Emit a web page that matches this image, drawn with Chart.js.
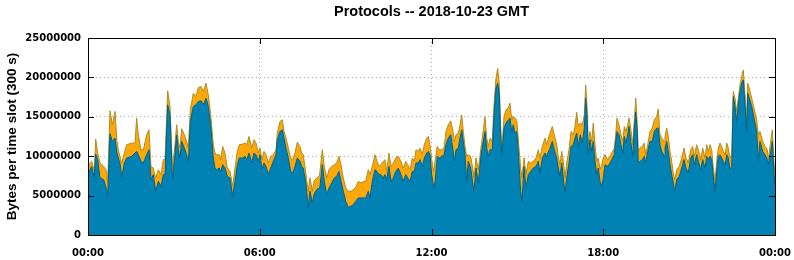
<!DOCTYPE html>
<html>
<head>
<meta charset="utf-8">
<script src="https://cdn.jsdelivr.net/npm/chart.js@4/dist/chart.umd.min.js"></script>
<style>
html,body{margin:0;padding:0;background:#fff;}
#wrap{width:794px;height:260px;position:relative;}
</style>
</head>
<body>
<div id="wrap"><canvas id="c" width="794" height="260"></canvas></div>
<script>
// Time of each reading, hours since 00:00 GMT
const slotHours = [
0.00,0.128,0.221,0.268,0.338,0.419,0.547,0.652,0.687,0.769,0.850,0.943,1.013,1.060,1.129,1.176,1.269,1.351,1.525,1.642,1.700,1.758,1.852,1.933,2.050,2.131,2.201,2.282,2.364,2.457,2.550,2.632,2.690,2.783,2.865,2.946,3.016,3.098,3.156,3.214,3.272,3.365,3.447,3.505,3.575,3.680,3.773,3.855,3.948,4.029,
4.122,4.203,4.287,4.377,4.437,4.496,4.587,4.636,4.706,4.786,4.866,4.961,5.055,5.135,5.216,5.286,5.404,5.485,5.544,5.624,5.719,5.799,5.869,5.949,6.009,6.079,6.148,6.218,6.299,6.383,6.473,6.568,6.613,6.707,6.788,6.847,6.917,6.998,7.081,7.151,7.232,7.312,7.406,7.465,7.521,7.616,7.696,7.755,7.836,7.895,7.989,8.080,
8.105,8.185,8.255,8.339,8.419,8.514,8.604,8.688,8.769,8.838,8.919,9.003,9.093,9.188,9.268,9.352,9.443,9.537,9.618,9.701,9.792,9.852,9.932,10.026,10.096,10.166,10.236,10.316,10.376,10.435,10.515,10.585,10.666,10.749,10.840,10.934,11.015,11.099,11.169,11.249,11.329,11.399,11.459,11.539,11.598,11.679,11.749,11.832,11.888,11.948,12.007,12.077,
12.126,12.203,12.273,12.356,12.437,12.507,12.587,12.671,12.741,12.797,12.856,12.937,12.996,13.055,13.111,13.170,13.229,13.286,13.369,13.439,13.485,13.555,13.635,13.719,13.789,13.869,13.928,13.984,14.044,14.124,14.183,14.253,14.313,14.369,14.418,14.463,14.533,14.603,14.683,14.742,14.802,14.858,14.917,14.976,15.022,15.067,15.116,15.162,15.232,15.301,15.382,15.466,15.557,15.651,15.731,15.790,15.871,15.965,16.024,16.115,
16.140,16.220,16.290,16.374,16.430,16.489,16.549,16.604,16.664,16.723,16.803,16.873,16.954,17.013,17.073,17.128,17.198,17.268,17.338,17.387,17.432,17.478,17.537,17.596,17.652,17.712,17.771,17.827,17.886,17.946,18.002,18.061,18.155,18.236,18.295,18.386,18.435,18.481,18.550,18.620,18.680,18.736,18.795,18.854,18.900,18.959,19.029,19.085,19.134,19.179,19.225,19.284,19.365,19.434,19.483,19.553,19.633,19.714,19.784,19.868,19.923,19.983,20.042,20.133,
20.157,20.216,20.272,20.332,20.391,20.447,20.496,20.566,20.657,20.741,20.821,20.891,20.971,21.055,21.125,21.181,21.265,21.321,21.404,21.474,21.555,21.614,21.670,21.729,21.789,21.845,21.904,21.963,22.019,22.079,22.138,22.194,22.264,22.313,22.369,22.428,22.488,22.543,22.603,22.662,22.718,22.777,22.837,22.893,22.952,23.011,23.046,23.102,23.186,23.266,23.361,23.416,23.476,23.570,23.651,23.731,23.766,23.850,23.906,23.965,24.0
];
// Lower (blue) protocol, millions of bytes per slot
const protoBlueM = [
7.66,8.71,7.24,10.27,9.56,7.24,7.03,5.76,4.79,12.85,11.88,12.30,10.40,9.77,8.92,7.24,9.14,9.77,9.98,10.40,10.61,10.19,9.35,9.14,10.19,10.82,7.03,7.66,5.55,6.81,6.18,7.66,7.66,16.52,15.25,7.24,9.35,12.72,10.82,9.77,11.88,11.03,10.19,9.14,14.41,16.31,16.52,16.94,17.03,16.52,
17.36,16.31,13.99,9.77,8.50,8.29,8.50,8.08,8.92,8.50,7.45,7.24,4.92,6.81,8.92,9.77,9.77,9.98,9.56,10.40,9.14,10.40,10.19,9.35,10.19,8.29,9.14,8.71,7.66,8.50,9.35,10.19,12.09,13.14,13.35,12.30,11.03,9.77,8.08,7.87,8.71,9.77,9.35,8.71,8.50,6.39,3.44,5.55,4.07,5.13,5.76,5.97,
6.18,8.92,6.81,5.13,5.97,6.60,7.24,7.45,8.08,6.81,5.55,4.28,3.52,3.65,3.86,4.28,4.70,4.70,4.70,4.70,5.55,4.70,6.81,8.29,8.08,7.66,7.66,7.24,7.66,7.03,8.71,6.81,7.24,8.08,8.50,7.66,6.81,7.66,7.24,6.81,8.08,8.08,9.14,9.14,9.56,8.71,9.77,10.40,10.61,10.19,7.66,5.97,
6.81,9.98,9.77,9.98,10.19,11.46,12.30,12.72,11.03,9.35,10.82,11.03,12.30,13.35,11.88,10.19,6.81,9.35,8.50,6.60,5.55,8.50,6.60,9.77,11.46,13.14,11.03,9.98,10.82,10.82,15.25,18.63,19.26,17.78,12.30,10.19,13.56,14.20,14.62,14.83,13.14,13.99,12.93,13.14,11.03,8.50,5.55,4.28,8.71,5.97,7.66,8.08,8.50,8.71,9.35,7.87,9.77,10.40,9.98,10.82,
11.03,11.88,10.82,9.77,8.50,7.45,9.14,7.24,5.34,7.24,9.14,11.24,11.46,12.30,12.93,11.24,12.72,11.67,13.56,17.36,15.25,10.19,12.09,10.61,11.88,9.35,7.66,8.50,6.81,6.18,7.24,8.92,8.71,9.14,9.56,10.19,11.88,13.14,12.72,11.46,10.40,12.51,11.67,12.72,13.78,11.88,9.98,13.56,15.59,13.56,9.14,9.35,9.56,9.98,9.14,10.61,11.88,11.88,13.14,13.56,13.56,11.46,10.61,9.98,
11.03,11.88,10.61,8.92,7.66,6.60,5.55,7.03,7.45,8.50,9.56,8.50,7.87,9.77,10.19,8.92,10.19,9.35,8.29,9.56,8.50,9.98,9.56,9.98,9.56,7.45,5.55,8.08,9.98,10.19,9.77,9.35,8.92,10.19,9.77,8.29,8.71,17.57,16.31,14.41,16.52,18.21,19.26,19.68,16.52,13.14,18.00,17.36,16.31,14.83,13.14,9.35,11.88,10.61,10.19,9.56,8.92,10.61,11.88,7.66,6.39
];
// Upper (orange) protocol, millions of bytes per slot
const protoOrangeM = [
1.05,0.64,0.84,1.90,0.84,1.90,1.68,2.32,1.81,2.91,2.11,3.38,1.48,1.05,0.85,1.90,1.26,1.69,1.69,1.27,4.22,2.53,1.47,1.68,2.53,2.53,1.68,0.84,1.69,1.48,1.48,1.90,1.90,1.77,1.06,1.47,1.26,1.27,1.06,1.26,1.60,1.69,1.69,1.89,1.48,1.69,1.05,1.77,1.81,1.69,
1.90,1.47,1.26,1.69,1.90,1.90,1.69,1.48,2.32,1.90,1.05,0.84,1.26,1.69,1.69,1.69,1.77,1.69,1.90,2.11,1.89,1.69,1.48,1.05,0.84,1.27,1.47,1.48,1.48,1.48,0.84,0.63,0.84,1.27,1.27,0.84,1.27,1.26,1.69,1.69,1.69,2.02,1.89,1.69,1.69,1.27,2.11,1.69,1.48,1.68,1.48,1.48,
1.90,1.90,1.90,2.11,2.32,2.11,1.68,1.69,1.90,2.11,1.69,1.69,2.03,1.90,1.90,1.77,2.11,1.90,2.11,2.11,2.74,2.96,1.90,1.90,1.27,1.05,1.26,2.11,1.90,1.05,1.69,1.90,1.90,1.69,1.48,1.69,1.69,1.69,1.68,1.48,1.69,1.27,1.68,1.47,1.47,1.48,1.69,1.90,1.90,1.27,1.90,2.11,
2.54,1.26,1.05,0.84,0.84,1.68,1.69,1.77,2.32,2.53,1.90,1.90,1.69,1.90,1.26,1.05,3.17,0.84,1.48,1.90,1.69,1.27,1.69,1.05,1.26,1.90,1.27,1.26,1.48,1.06,1.27,1.26,1.90,1.27,1.26,1.05,1.48,1.69,1.48,1.90,1.48,1.05,1.90,1.48,1.69,2.11,2.95,2.96,1.06,1.69,1.69,1.06,0.85,1.06,1.47,1.90,1.47,1.90,1.48,1.90,
1.90,1.90,1.90,1.69,1.48,1.47,1.47,2.11,1.90,1.90,1.68,1.90,1.26,1.48,2.64,2.54,1.48,2.32,1.69,1.69,1.27,1.27,1.05,1.27,2.32,2.11,1.69,1.27,1.48,2.74,2.53,1.27,0.85,0.84,0.84,0.84,0.84,1.69,1.27,1.26,1.48,1.27,1.47,1.27,1.05,1.68,1.48,1.06,1.77,1.27,1.47,1.68,1.68,1.69,1.05,0.85,1.26,1.68,1.48,1.48,2.45,1.26,1.69,1.90,
1.48,1.68,1.90,1.69,1.69,1.27,1.48,1.26,1.26,1.27,1.47,1.27,1.27,1.05,1.05,1.06,1.27,1.47,1.27,1.47,1.27,1.48,1.05,1.48,1.26,1.05,1.26,1.27,1.05,1.48,1.47,1.26,1.27,1.48,1.26,1.48,1.48,0.64,1.05,1.27,0.84,0.84,0.85,1.27,1.26,1.48,1.26,1.27,1.05,1.27,1.48,3.37,1.26,1.27,1.05,1.26,0.64,1.27,1.47,1.69,0.85
];
const xTickLabels = ["00:00","06:00","12:00","18:00","00:00"];
const yTickValues = [0,5000000,10000000,15000000,20000000,25000000];
const chartTitle = "Protocols -- 2018-10-23 GMT";
const yAxisTitle = "Bytes per time slot (300 s)";

const toPoints = arr => slotHours.map((h,i)=>({x:h, y:arr[i]*1e6}));

const frameTicks = {
  id:'frameTicks',
  afterDatasetsDraw(chart){
    const {ctx, chartArea:a, scales:{x,y}} = chart;
    ctx.save();
    ctx.setLineDash([]);
    ctx.strokeStyle='#000';
    ctx.lineWidth=1;
    const L=6;
    ctx.beginPath();
    yTickValues.forEach(v=>{
      const py=Math.round(y.getPixelForValue(v))+0.5;
      ctx.moveTo(a.left,py); ctx.lineTo(a.left+L,py);
      ctx.moveTo(a.right,py); ctx.lineTo(a.right-L,py);
    });
    [0,6,12,18,24].forEach(v=>{
      const px=Math.round(x.getPixelForValue(v))+0.5;
      ctx.moveTo(px,a.top); ctx.lineTo(px,a.top+L);
      ctx.moveTo(px,a.bottom); ctx.lineTo(px,a.bottom-L);
    });
    ctx.stroke();
    ctx.strokeRect(Math.round(a.left)+0.5, Math.round(a.top)+0.5, Math.round(a.right-a.left), Math.round(a.bottom-a.top));
    // chart title, centred over the plot area
    ctx.fillStyle='#000';
    ctx.font='bold 14.5px "Liberation Sans"';
    ctx.textAlign='center';
    ctx.textBaseline='middle';
    ctx.fillText(chartTitle, (a.left+a.right)/2, 12);
    ctx.restore();
  }
};

new Chart(document.getElementById('c'), {
  type:'line',
  data:{
    datasets:[
      {label:'Protocol 1', data:toPoints(protoBlueM), backgroundColor:'rgb(0,130,180)', borderColor:'rgb(0,95,130)', borderWidth:1, fill:'origin', pointRadius:0, tension:0},
      {label:'Protocol 2', data:toPoints(protoOrangeM), backgroundColor:'rgb(252,168,10)', borderColor:'rgb(175,140,30)', borderWidth:1, fill:'-1', pointRadius:0, tension:0}
    ]
  },
  options:{
    responsive:false,
    animation:false,
    layout:{padding:{left:0,right:19,top:38,bottom:0}},
    plugins:{
      legend:{display:false},
      tooltip:{enabled:false},
      title:{display:false}
    },
    scales:{
      x:{
        type:'linear', min:0, max:24,
        afterFit(s){ s.height = 25; s.paddingLeft = 0; s.paddingRight = 0; },
        afterBuildTicks(s){ s.ticks = [0,6,12,18,24].map(v=>({value:v})); },
        ticks:{ callback:(v)=>xTickLabels[Math.round(v/6)], color:'#000', padding:12, maxRotation:0, autoSkip:false, font:{family:'DejaVu Sans', weight:'bold', size:10} },
        grid:{ color:'#b0b0b0', lineWidth:1, drawTicks:false },
        border:{ display:false, dash:[1,3] }
      },
      y:{
        stacked:true, min:0, max:25000000,
        afterFit(s){ s.width = 88; s.paddingTop = 0; s.paddingBottom = 0; },
        afterBuildTicks(s){ s.ticks = yTickValues.map(v=>({value:v})); },
        ticks:{ callback:(v)=>String(v), color:'#000', padding:7, font:{family:'DejaVu Sans', weight:'bold', size:10} },
        grid:{ color:'#b0b0b0', lineWidth:1, drawTicks:false },
        border:{ display:false, dash:[1,3] },
        title:{ display:true, text:yAxisTitle, color:'#000', font:{family:'Liberation Sans', weight:'bold', size:13.5}, padding:{top:4,bottom:0} }
      }
    }
  },
  plugins:[frameTicks]
});
</script>
</body>
</html>
